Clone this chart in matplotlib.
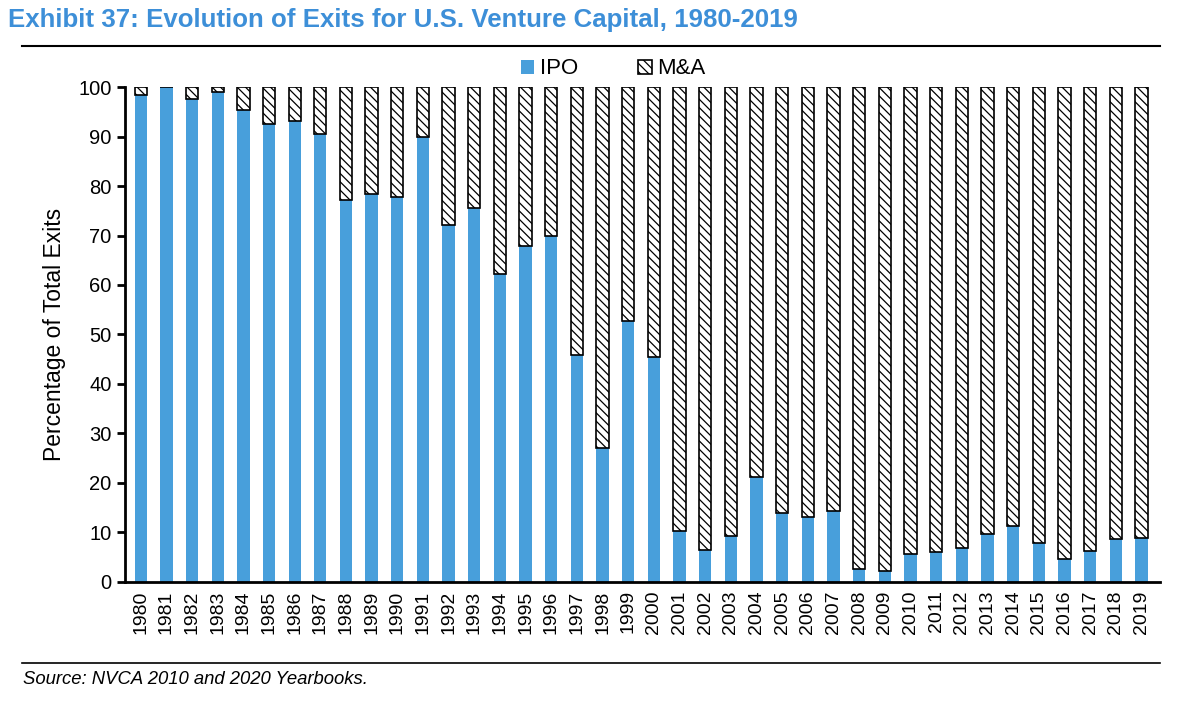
import numpy as np
import matplotlib.pyplot as plt

plt.rcParams['font.family'] = ['Liberation Sans', 'DejaVu Sans']
plt.rcParams['hatch.linewidth'] = 0.9

# data
years = [str(y) for y in range(1980, 2020)]
ipo = [98.3, 100, 97.5, 98.9, 95.4, 92.6, 93.2, 90.5, 77.1, 78.3,
       77.8, 90.0, 72.2, 75.5, 62.3, 67.8, 69.8, 45.8, 27.0, 52.8,
       45.5, 10.3, 6.5, 9.2, 21.2, 14.0, 13.1, 14.3, 2.6, 2.2,
       5.6, 6.1, 6.8, 9.6, 11.3, 7.8, 4.6, 6.3, 8.6, 8.8]
ma = [100 - v for v in ipo]

BLUE = '#489fdb'
TITLE_BLUE = '#3d8fd8'

fig = plt.figure(figsize=(12, 7.12), dpi=100)
ax = fig.add_axes([0.104, 0.1826, 0.863, 0.6952])

x = np.arange(len(years))
w = 0.48
ax.bar(x, ipo, w, color=BLUE, label='IPO', zorder=2)
ax.bar(x, ma, w, bottom=ipo, facecolor='white', edgecolor='black',
       hatch='\\\\\\\\', linewidth=1.2, label='M&A', zorder=2)

ax.set_xlim(-0.62, 39.74)
ax.set_ylim(0, 100)
ax.set_yticks(range(0, 101, 10))
ax.set_xticks(x)
ax.set_xticklabels(years, rotation=90, fontsize=14)
ax.tick_params(axis='y', labelsize=14.5, width=2, length=6, direction='out')
ax.tick_params(axis='x', length=0, pad=6)
for s in ['top', 'right']:
    ax.spines[s].set_visible(False)
for s in ['left', 'bottom']:
    ax.spines[s].set_linewidth(2)
ax.set_ylabel('Percentage of Total Exits', fontsize=16.5, labelpad=9)

ax.legend(loc='center', bbox_to_anchor=(0.511, 1 - 69 / 712),
          bbox_transform=fig.transFigure, ncol=2, frameon=False,
          fontsize=16, handlelength=0.6, handleheight=0.6,
          handletextpad=0.25, columnspacing=2.7, borderpad=0)

fig.text(0.007, 0.972, 'Exhibit 37: Evolution of Exits for U.S. Venture Capital, 1980-2019',
         color=TITLE_BLUE, fontsize=18.6, fontweight='bold', va='center')
fig.add_artist(plt.Line2D([0.018, 0.967], [0.935, 0.935], color='black', lw=1.5))
fig.add_artist(plt.Line2D([0.018, 0.967], [0.069, 0.069], color='black', lw=1.2))
fig.text(0.019, 0.045, 'Source: NVCA 2010 and 2020 Yearbooks.',
         fontsize=13.3, style='italic', va='center')

fig.savefig('out.png', dpi=100)
